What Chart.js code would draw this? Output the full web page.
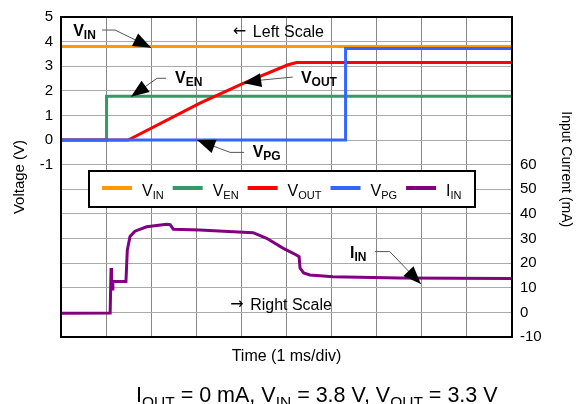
<!DOCTYPE html>
<html>
<head>
<meta charset="utf-8">
<script src="https://cdn.jsdelivr.net/npm/chart.js@4"></script>
<style>
  html, body { margin: 0; padding: 0; background: #fff; }
</style>
</head>
<body>
<canvas id="scopeChart" width="576" height="404"></canvas>
<script>
// time in ms, voltages in V (left scale), current in mA (right scale)
const vinTime = [0, 10];
const vinVolts = [3.8, 3.8];

const venTime = [0, 1.01, 1.01, 10];
const venVolts = [0, 0, 1.78, 1.78];

const voutTime = [0, 1.49, 3.08, 4.04, 5.02, 5.22, 10];
const voutVolts = [0, 0, 1.5, 2.3, 3.05, 3.15, 3.15];

const vpgTime = [0, 6.31, 6.31, 10];
const vpgVolts = [0, 0, 3.72, 3.72];

const iinTime = [0, 1.09, 1.11, 1.12, 1.14, 1.15, 1.44, 1.47, 1.53, 1.64, 1.9, 2.34, 2.42, 2.49,
  3.08, 3.82, 4.26, 4.56, 4.93, 5.15, 5.28, 5.3, 5.38, 5.52, 6.03, 7.5, 10];
const iinCurrent = [-0.4, -0.3, 18, 12.5, 9.5, 12.5, 12.5, 25.3, 30.8, 33, 34.8, 35.8, 35.6, 33.8,
  33.5, 32.8, 32.4, 30.1, 26, 24, 22.6, 18, 16, 15.2, 14.5, 14, 13.8];

const seriesNames = [['V', 'IN'], ['V', 'EN'], ['V', 'OUT'], ['V', 'PG'], ['I', 'IN']];
const seriesColors = ['#ff9900', '#339966', '#ff0000', '#3366ff', '#800080'];

const voltTicks = [5, 4, 3, 2, 1, 0, -1];
const currentTicks = [60, 50, 40, 30, 20, 10, 0, -10];

// annotation labels: [time, value, axis]
const labelAt = [[0.27, 4.23, 'y'], [2.53, 2.31, 'y'], [5.32, 2.31, 'y'], [4.25, -0.68, 'y'], [6.41, 22, 'y2']];
const leaderPts = [
  [[0.91, 4.47], [1.20, 4.47], [2.0, 3.75]],
  [[2.33, 2.51], [2.13, 2.51], [1.55, 1.76]],
  [[5.14, 2.56], [4.46, 2.44], [4.04, 2.32]],
  [[4.06, -0.5], [3.75, -0.5], [3.02, 0.0]],
  [[6.96, 24.7], [7.29, 24.7], [7.98, 11.5]]
];

const FONT = "'Liberation Sans', Arial, sans-serif";
Chart.defaults.font.family = FONT;
Chart.defaults.color = '#000';

function pts(xs, ys) {
  return xs.map((x, i) => ({ x: x, y: ys[i] }));
}

function drawSubText(ctx, x, y, parts, size, subSize, drop, weight) {
  let cx = x;
  parts.forEach(([txt, sub]) => {
    ctx.font = weight + ' ' + (sub ? subSize : size) + 'px ' + FONT;
    ctx.fillText(txt, cx, sub ? y + drop : y);
    cx += ctx.measureText(txt).width;
  });
  return cx - x;
}

function arrowHead(ctx, from, tip) {
  const a = Math.atan2(tip.y - from.y, tip.x - from.x);
  const len = 18, half = 7;
  const bx = tip.x - len * Math.cos(a), by = tip.y - len * Math.sin(a);
  ctx.beginPath();
  ctx.moveTo(tip.x, tip.y);
  ctx.lineTo(bx + half * Math.sin(a), by - half * Math.cos(a));
  ctx.lineTo(bx - half * Math.sin(a), by + half * Math.cos(a));
  ctx.closePath();
  ctx.fill();
}

function scaleNote(ctx, arrow, text, x, y) {
  ctx.font = "16px 'DejaVu Sans', sans-serif";
  ctx.fillText(arrow, x, y - 1);
  ctx.font = '16px ' + FONT;
  ctx.fillText(text, x + 20, y);
}

const scopeDecor = {
  id: 'scopeDecor',
  afterDraw(chart) {
    const ctx = chart.ctx;
    const area = chart.chartArea;
    const sx = chart.scales.x;
    ctx.save();
    ctx.textBaseline = 'alphabetic';
    ctx.textAlign = 'left';
    ctx.fillStyle = '#000';

    // legend box
    const bx = area.left + 28, by = area.top + 154, bw = 386, bh = 36;
    ctx.fillStyle = '#fff';
    ctx.fillRect(bx, by, bw, bh);
    ctx.strokeStyle = '#000';
    ctx.lineWidth = 2;
    ctx.strokeRect(bx, by, bw, bh);
    let lx = bx + 13;
    const ly = by + 17;
    seriesNames.forEach((nm, i) => {
      ctx.strokeStyle = seriesColors[i];
      ctx.lineWidth = 4;
      ctx.beginPath();
      ctx.moveTo(lx, ly);
      ctx.lineTo(lx + 30, ly);
      ctx.stroke();
      lx += 40;
      ctx.fillStyle = '#000';
      lx += drawSubText(ctx, lx, ly + 8, [[nm[0], 0], [nm[1], 1]], 16, 11, 3, 'normal') + 9;
    });

    // annotation labels with leader arrows
    labelAt.forEach((p, i) => {
      const sy = chart.scales[p[2]];
      ctx.fillStyle = '#000';
      drawSubText(ctx, sx.getPixelForValue(p[0]), sy.getPixelForValue(p[1]),
        [[seriesNames[i][0], 0], [seriesNames[i][1], 1]], 16, 12, 3, 'bold');
      const lp = leaderPts[i].map(q => ({ x: sx.getPixelForValue(q[0]), y: sy.getPixelForValue(q[1]) }));
      ctx.strokeStyle = '#555';
      ctx.lineWidth = 1;
      ctx.beginPath();
      ctx.moveTo(lp[0].x, lp[0].y);
      ctx.lineTo(lp[1].x, lp[1].y);
      ctx.lineTo(lp[2].x, lp[2].y);
      ctx.stroke();
      ctx.fillStyle = '#000';
      arrowHead(ctx, lp[1], lp[2]);
    });

    // scale notes
    scaleNote(ctx, '\u2190', 'Left Scale', sx.getPixelForValue(3.81), chart.scales.y.getPixelForValue(4.18));
    scaleNote(ctx, '\u2192', 'Right Scale', sx.getPixelForValue(3.75), chart.scales.y2.getPixelForValue(1.0));

    // plot frame
    ctx.strokeStyle = '#000';
    ctx.lineWidth = 2;
    ctx.strokeRect(area.left, area.top, area.right - area.left, area.bottom - area.top);

    // test condition caption
    drawSubText(ctx, 136, 402, [['I', 0], ['OUT', 1], [' = 0 mA, V', 0], ['IN', 1],
      [' = 3.8 V, V', 0], ['OUT', 1], [' = 3.3 V', 0]], 21.5, 15.5, 5, 'normal');
    ctx.restore();
  }
};

const datasets = [
  { data: pts(vpgTime, vpgVolts), color: seriesColors[3], axis: 'y', order: 0 },
  { data: pts(voutTime, voutVolts), color: seriesColors[2], axis: 'y', order: 1 },
  { data: pts(venTime, venVolts), color: seriesColors[1], axis: 'y', order: 2 },
  { data: pts(vinTime, vinVolts), color: seriesColors[0], axis: 'y', order: 3 },
  { data: pts(iinTime, iinCurrent), color: seriesColors[4], axis: 'y2', order: 4 }
].map(d => ({
  data: d.data,
  yAxisID: d.axis,
  order: d.order,
  borderColor: d.color,
  borderWidth: 3,
  pointRadius: 0,
  tension: 0,
  fill: false
}));

new Chart(document.getElementById('scopeChart'), {
  type: 'line',
  data: { datasets: datasets },
  options: {
    responsive: false,
    animation: false,
    layout: { padding: { top: 17, left: 0, right: 0, bottom: 0 } },
    plugins: { legend: { display: false }, tooltip: { enabled: false } },
    scales: {
      x: {
        type: 'linear', min: 0, max: 10,
        ticks: { stepSize: 1, display: false },
        grid: { color: '#888', drawTicks: false },
        border: { display: false },
        title: { display: true, text: 'Time (1 ms/div)', font: { size: 16 }, padding: { top: 0, bottom: 38 } },
        afterFit(s) { s.height = 67; }
      },
      y: {
        position: 'left', min: -8, max: 5,
        ticks: {
          stepSize: 1, padding: 8, autoSkip: false, font: { size: 15 },
          callback: v => voltTicks.includes(v) ? v : ''
        },
        grid: { color: '#aaa', drawTicks: false },
        border: { display: false },
        title: { display: true, text: 'Voltage (V)', font: { size: 15 }, padding: { top: 11, bottom: 0 } },
        afterFit(s) { s.width = 61; }
      },
      y2: {
        position: 'right', min: -10, max: 120,
        ticks: {
          stepSize: 10, padding: 8, autoSkip: false, font: { size: 15 },
          callback: v => currentTicks.includes(v) ? v : ''
        },
        grid: { drawOnChartArea: false, drawTicks: false },
        border: { display: false },
        title: { display: true, text: 'Input Current (mA)    ', font: { size: 14 }, padding: { top: 2, bottom: 0 } },
        afterFit(s) { s.width = 64; }
      }
    }
  },
  plugins: [scopeDecor]
});
</script>
</body>
</html>
